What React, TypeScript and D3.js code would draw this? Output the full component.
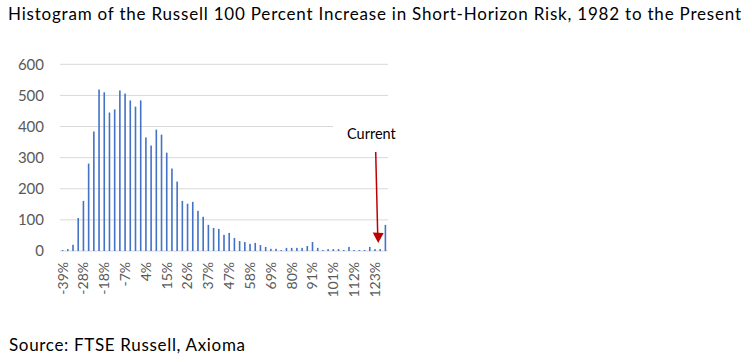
import React, { useEffect, useRef } from "react";
import * as d3 from "d3";

// one bin every ~2.7%, only every 4th bin is labelled
const tickLabels = ["-39%", "-28%", "-18%", "-7%", "4%", "15%", "26%", "37%", "47%", "58%", "69%", "80%", "91%", "101%", "112%", "123%"];
const counts = [
  3, 6, 20, 106, 161, 281, 384, 519, 510, 445, 455, 516, 506, 484, 464, 484,
  365, 339, 390, 374, 316, 265, 223, 161, 152, 158, 129, 110, 84, 74, 71, 52,
  58, 42, 32, 29, 23, 26, 19, 13, 7, 7, 3, 10, 10, 10, 10, 16,
  29, 10, 3, 6, 6, 6, 3, 13, 3, 3, 3, 13, 6, 6, 84,
];
const yTicks = [0, 100, 200, 300, 400, 500, 600];
const currentBin = 61;

const W = 752;
const H = 362;
const font = "Lato, 'Open Sans', sans-serif";

export default function App() {
  const ref = useRef<SVGSVGElement>(null);

  useEffect(() => {
    const svg = d3.select(ref.current);
    svg.selectAll("*").remove();

    const left = 60, right = 388, top = 64.3, bottom = 251;
    const x = d3.scaleBand<number>().domain(d3.range(counts.length)).range([left, right]).padding(0);
    const y = d3.scaleLinear().domain([0, 600]).range([bottom, top]);
    const barW = 1.6;

    svg.append("text")
      .attr("x", 8).attr("y", 20)
      .attr("font-family", font).attr("font-size", 17)
      .attr("textLength", 733).attr("lengthAdjust", "spacing")
      .text("Histogram of the Russell 100 Percent Increase in Short-Horizon Risk, 1982 to the Present");

    // gridlines
    svg.append("g").selectAll("line").data(yTicks).enter().append("line")
      .attr("x1", left).attr("x2", right)
      .attr("y1", d => y(d)).attr("y2", d => y(d))
      .attr("stroke", "#d9d9d9").attr("stroke-width", 1);

    svg.append("g").selectAll("text").data(yTicks).enter().append("text")
      .attr("x", 44).attr("y", d => y(d)).attr("dy", "0.35em")
      .attr("text-anchor", "end").attr("fill", "#595959")
      .attr("font-family", font).attr("font-size", 15)
      .text(d => d);

    svg.append("g").selectAll("rect").data(counts).enter().append("rect")
      .attr("x", (d, i) => x(i)! + x.bandwidth() / 2 - barW / 2)
      .attr("width", barW)
      .attr("y", d => y(d))
      .attr("height", d => bottom - y(d))
      .attr("fill", "#4472c4");

    svg.append("g").selectAll("text").data(tickLabels).enter().append("text")
      .attr("transform", (d, i) => `translate(${x(i * 4)! + x.bandwidth() / 2},262) rotate(-90)`)
      .attr("dy", "0.35em")
      .attr("text-anchor", "end").attr("fill", "#595959")
      .attr("font-family", font).attr("font-size", 14)
      .text(d => d);

    // "Current" callout, its white box hides part of the 400 gridline
    svg.append("rect").attr("x", 333).attr("y", 119).attr("width", 70).attr("height", 29).attr("fill", "#fff");
    svg.append("text")
      .attr("x", 347).attr("y", 139)
      .attr("font-family", font).attr("font-size", 14.5)
      .text("Current");

    const tipX = x(currentBin)! + x.bandwidth() / 2 - 2;
    const tipY = 243;
    svg.append("line")
      .attr("x1", 375.7).attr("y1", 152)
      .attr("x2", tipX - 0.5).attr("y2", tipY - 9)
      .attr("stroke", "#c00000").attr("stroke-width", 1.5);
    svg.append("path")
      .attr("d", `M${tipX - 5.5},${tipY - 10.5}L${tipX + 5.5},${tipY - 10}L${tipX},${tipY}Z`)
      .attr("fill", "#c00000");

    svg.append("text")
      .attr("x", 9).attr("y", 351)
      .attr("font-family", font).attr("font-size", 17)
      .attr("textLength", 236).attr("lengthAdjust", "spacing")
      .text("Source: FTSE Russell, Axioma");
  }, []);

  return (
    <div style={{ position: "absolute", left: 0, top: 0 }}>
      <svg ref={ref} width={W} height={H} style={{ display: "block", background: "#fff" }} />
    </div>
  );
}
